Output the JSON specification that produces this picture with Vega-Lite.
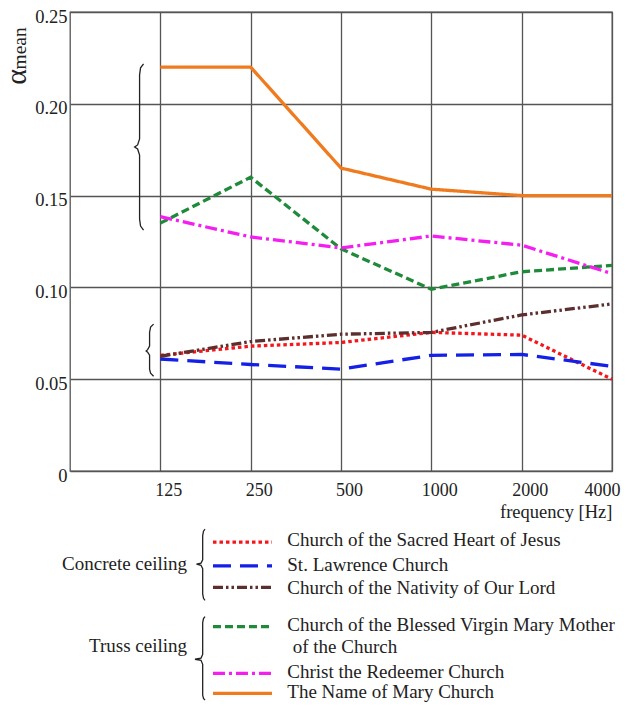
{
  "$schema": "https://vega.github.io/schema/vega-lite/v6.json",
  "padding": {"left": 0, "top": 6, "right": 0, "bottom": 0},
  "bounds": "flush",
  "spacing": 58,
  "resolve": {"scale": {"x": "independent", "y": "independent", "color": "independent", "strokeDash": "independent"}},
  "config": {
    "font": "Liberation Serif",
    "view": {"stroke": "#555", "strokeWidth": 1.3},
    "axis": {"labelFont": "Liberation Serif", "titleFont": "Liberation Serif", "labelColor": "#222", "titleColor": "#222", "titleFontWeight": "normal", "gridColor": "#555", "gridWidth": 1.3, "gridOpacity": 1}
  },
  "datasets": {
    "obs": [
      {"series": "Church of the Sacred Heart of Jesus", "freq": 125, "alpha": 0.063},
      {"series": "Church of the Sacred Heart of Jesus", "freq": 250, "alpha": 0.068},
      {"series": "Church of the Sacred Heart of Jesus", "freq": 500, "alpha": 0.070},
      {"series": "Church of the Sacred Heart of Jesus", "freq": 1000, "alpha": 0.0755},
      {"series": "Church of the Sacred Heart of Jesus", "freq": 2000, "alpha": 0.074},
      {"series": "Church of the Sacred Heart of Jesus", "freq": 4000, "alpha": 0.050},
      {"series": "St. Lawrence Church", "freq": 125, "alpha": 0.061},
      {"series": "St. Lawrence Church", "freq": 250, "alpha": 0.058},
      {"series": "St. Lawrence Church", "freq": 500, "alpha": 0.0555},
      {"series": "St. Lawrence Church", "freq": 1000, "alpha": 0.063},
      {"series": "St. Lawrence Church", "freq": 2000, "alpha": 0.0635},
      {"series": "St. Lawrence Church", "freq": 4000, "alpha": 0.057},
      {"series": "Church of the Nativity of Our Lord", "freq": 125, "alpha": 0.0625},
      {"series": "Church of the Nativity of Our Lord", "freq": 250, "alpha": 0.0705},
      {"series": "Church of the Nativity of Our Lord", "freq": 500, "alpha": 0.0745},
      {"series": "Church of the Nativity of Our Lord", "freq": 1000, "alpha": 0.0755},
      {"series": "Church of the Nativity of Our Lord", "freq": 2000, "alpha": 0.085},
      {"series": "Church of the Nativity of Our Lord", "freq": 4000, "alpha": 0.091},
      {"series": "Church of the Blessed Virgin Mary Mother of the Church", "freq": 125, "alpha": 0.135},
      {"series": "Church of the Blessed Virgin Mary Mother of the Church", "freq": 250, "alpha": 0.160},
      {"series": "Church of the Blessed Virgin Mary Mother of the Church", "freq": 500, "alpha": 0.121},
      {"series": "Church of the Blessed Virgin Mary Mother of the Church", "freq": 1000, "alpha": 0.099},
      {"series": "Church of the Blessed Virgin Mary Mother of the Church", "freq": 2000, "alpha": 0.1085},
      {"series": "Church of the Blessed Virgin Mary Mother of the Church", "freq": 4000, "alpha": 0.112},
      {"series": "Christ the Redeemer Church", "freq": 125, "alpha": 0.1385},
      {"series": "Christ the Redeemer Church", "freq": 250, "alpha": 0.1275},
      {"series": "Christ the Redeemer Church", "freq": 500, "alpha": 0.1215},
      {"series": "Christ the Redeemer Church", "freq": 1000, "alpha": 0.128},
      {"series": "Christ the Redeemer Church", "freq": 2000, "alpha": 0.123},
      {"series": "Christ the Redeemer Church", "freq": 4000, "alpha": 0.1075},
      {"series": "The Name of Mary Church", "freq": 125, "alpha": 0.22},
      {"series": "The Name of Mary Church", "freq": 250, "alpha": 0.22},
      {"series": "The Name of Mary Church", "freq": 500, "alpha": 0.165},
      {"series": "The Name of Mary Church", "freq": 1000, "alpha": 0.1535},
      {"series": "The Name of Mary Church", "freq": 2000, "alpha": 0.150},
      {"series": "The Name of Mary Church", "freq": 4000, "alpha": 0.150}
    ],
    "bracesPlot": [
      {"brace": "truss", "i": 0, "f": 109.9, "a": 0.2218},
      {"brace": "truss", "i": 1, "f": 107.4, "a": 0.2196},
      {"brace": "truss", "i": 2, "f": 106.6, "a": 0.2158},
      {"brace": "truss", "i": 3, "f": 106.6, "a": 0.1809},
      {"brace": "truss", "i": 4, "f": 105.0, "a": 0.1776},
      {"brace": "truss", "i": 5, "f": 102.6, "a": 0.1765},
      {"brace": "truss", "i": 6, "f": 105.0, "a": 0.1754},
      {"brace": "truss", "i": 7, "f": 106.6, "a": 0.1721},
      {"brace": "truss", "i": 8, "f": 106.6, "a": 0.1372},
      {"brace": "truss", "i": 9, "f": 107.4, "a": 0.1334},
      {"brace": "truss", "i": 10, "f": 109.9, "a": 0.1312},
      {"brace": "concrete", "i": 0, "f": 118.7, "a": 0.0800},
      {"brace": "concrete", "i": 1, "f": 116.0, "a": 0.0784},
      {"brace": "concrete", "i": 2, "f": 115.1, "a": 0.0756},
      {"brace": "concrete", "i": 3, "f": 115.1, "a": 0.0680},
      {"brace": "concrete", "i": 4, "f": 113.4, "a": 0.0661},
      {"brace": "concrete", "i": 5, "f": 112.1, "a": 0.0654},
      {"brace": "concrete", "i": 6, "f": 113.4, "a": 0.0647},
      {"brace": "concrete", "i": 7, "f": 115.1, "a": 0.0631},
      {"brace": "concrete", "i": 8, "f": 115.1, "a": 0.0555},
      {"brace": "concrete", "i": 9, "f": 116.0, "a": 0.0533},
      {"brace": "concrete", "i": 10, "f": 118.7, "a": 0.0516}
    ],
    "subscript": [
      {"text": "mean", "f": 44.7, "a": 0.2302}
    ],
    "keys": [
      {"series": "Church of the Sacred Heart of Jesus", "label": "Church of the Sacred Heart of Jesus", "ly": 0, "ty": -0.1},
      {"series": "St. Lawrence Church", "label": "St. Lawrence Church", "ly": 1.08, "ty": 1.03},
      {"series": "Church of the Nativity of Our Lord", "label": "Church of the Nativity of Our Lord", "ly": 2.05, "ty": 2.09},
      {"series": "Church of the Blessed Virgin Mary Mother of the Church", "label": "Church of the Blessed Virgin Mary Mother", "ly": 3.84, "ty": 3.77},
      {"series": "Christ the Redeemer Church", "label": "Christ the Redeemer Church", "ly": 5.96, "ty": 5.88},
      {"series": "The Name of Mary Church", "label": "The Name of Mary Church", "ly": 6.87, "ty": 6.83}
    ],
    "groups": [
      {"group": "Concrete ceiling", "gy": 1.0},
      {"group": "Truss ceiling", "gy": 4.71}
    ],
    "wrapped": [
      {"text": "of the Church", "wy": 4.75}
    ],
    "bracesLegend": [
      {"brace": "concrete", "i": 0, "bx": 24.91, "by": -0.59},
      {"brace": "concrete", "i": 1, "bx": 24.63, "by": -0.5},
      {"brace": "concrete", "i": 2, "bx": 24.48, "by": -0.3},
      {"brace": "concrete", "i": 3, "bx": 24.48, "by": 0.8},
      {"brace": "concrete", "i": 4, "bx": 24.17, "by": 0.95},
      {"brace": "concrete", "i": 5, "bx": 23.34, "by": 1.0},
      {"brace": "concrete", "i": 6, "bx": 24.17, "by": 1.05},
      {"brace": "concrete", "i": 7, "bx": 24.48, "by": 1.2},
      {"brace": "concrete", "i": 8, "bx": 24.48, "by": 2.35},
      {"brace": "concrete", "i": 9, "bx": 24.63, "by": 2.55},
      {"brace": "concrete", "i": 10, "bx": 24.91, "by": 2.64},
      {"brace": "truss", "i": 0, "bx": 24.91, "by": 3.38},
      {"brace": "truss", "i": 1, "bx": 24.63, "by": 3.47},
      {"brace": "truss", "i": 2, "bx": 24.48, "by": 3.65},
      {"brace": "truss", "i": 3, "bx": 24.48, "by": 5.1},
      {"brace": "truss", "i": 4, "bx": 24.17, "by": 5.27},
      {"brace": "truss", "i": 5, "bx": 23.06, "by": 5.32},
      {"brace": "truss", "i": 6, "bx": 24.17, "by": 5.37},
      {"brace": "truss", "i": 7, "bx": 24.48, "by": 5.55},
      {"brace": "truss", "i": 8, "bx": 24.48, "by": 6.95},
      {"brace": "truss", "i": 9, "bx": 24.63, "by": 7.1},
      {"brace": "truss", "i": 10, "bx": 24.91, "by": 7.17}
    ]
  },
  "vconcat": [
    {
      "width": 542,
      "height": 459,
      "layer": [
        {
          "data": {"name": "bracesPlot"},
          "mark": {"type": "line", "color": "#222", "strokeWidth": 1.3},
          "encoding": {
            "x": {"field": "f", "type": "quantitative", "scale": {"type": "log", "base": 2, "domain": [62.5, 4000], "nice": false}},
            "y": {"field": "a", "type": "quantitative", "scale": {"domain": [0, 0.25], "nice": false}},
            "detail": {"field": "brace"},
            "order": {"field": "i", "type": "quantitative"}
          }
        },
        {
          "data": {"name": "subscript"},
          "mark": {"type": "text", "angle": 270, "align": "center", "baseline": "alphabetic", "fontSize": 19.5, "font": "Liberation Serif", "color": "#222"},
          "encoding": {
            "x": {"field": "f", "type": "quantitative"},
            "y": {"field": "a", "type": "quantitative"},
            "text": {"field": "text"}
          }
        },
        {
          "data": {"name": "obs"},
          "mark": {"type": "line", "strokeWidth": 3.3},
          "encoding": {
            "x": {
              "field": "freq", "type": "quantitative",
              "scale": {"type": "log", "base": 2, "domain": [62.5, 4000], "nice": false},
              "axis": {"values": [125, 250, 500, 1000, 2000, 4000], "format": "d", "grid": true, "ticks": false, "domain": false, "labelPadding": 10, "labelOffset": 8, "labelFont": "Liberation Serif", "labelFontSize": 18, "title": "frequency [Hz]", "titleFont": "Liberation Serif", "titleFontSize": 18.5, "titleAnchor": "end", "titlePadding": 3}
            },
            "y": {
              "field": "alpha", "type": "quantitative",
              "scale": {"domain": [0, 0.25], "nice": false},
              "axis": {"values": [0, 0.05, 0.1, 0.15, 0.2, 0.25], "labelExpr": "datum.value == 0 ? '0' : format(datum.value, '.2f')", "grid": true, "ticks": false, "domain": false, "labelPadding": 3, "labelOffset": 4, "labelFont": "Liberation Serif", "labelFontSize": 18.5, "title": "α", "titleFont": "Liberation Serif", "titleFontSize": 30, "titleX": -45, "titleY": 64.5, "titleAngle": 270, "titleAlign": "center", "titleBaseline": "alphabetic"}
            },
            "color": {
              "field": "series", "type": "nominal", "legend": null,
              "scale": {
                "domain": ["Church of the Sacred Heart of Jesus", "St. Lawrence Church", "Church of the Nativity of Our Lord", "Church of the Blessed Virgin Mary Mother of the Church", "Christ the Redeemer Church", "The Name of Mary Church"],
                "range": ["#f5161b", "#1420e6", "#5c2e2e", "#1f8a3a", "#f51ef0", "#f07a1e"]
              }
            },
            "strokeDash": {
              "field": "series", "type": "nominal", "legend": null,
              "scale": {
                "domain": ["Church of the Sacred Heart of Jesus", "St. Lawrence Church", "Church of the Nativity of Our Lord", "Church of the Blessed Virgin Mary Mother of the Church", "Christ the Redeemer Church", "The Name of Mary Church"],
                "range": [[3.5, 3], [18, 9], [10, 3, 2.5, 3, 2.5, 3], [8, 4], [12, 4, 3, 4], [1, 0]]
              }
            }
          }
        }
      ]
    },
    {
      "width": 542,
      "height": 176,
      "view": {"stroke": null},
      "layer": [
        {
          "data": {"name": "keys"},
          "mark": {"type": "rule", "strokeWidth": 3.3},
          "encoding": {
            "x": {"datum": 26.38, "type": "quantitative", "scale": {"domain": [0, 100], "nice": false}, "axis": null},
            "x2": {"datum": 37.27},
            "y": {"field": "ly", "type": "quantitative", "scale": {"domain": [-0.6, 7.4], "reverse": true, "nice": false, "zero": false}, "axis": null},
            "color": {
              "field": "series", "type": "nominal", "legend": null,
              "scale": {
                "domain": ["Church of the Sacred Heart of Jesus", "St. Lawrence Church", "Church of the Nativity of Our Lord", "Church of the Blessed Virgin Mary Mother of the Church", "Christ the Redeemer Church", "The Name of Mary Church"],
                "range": ["#f5161b", "#1420e6", "#5c2e2e", "#1f8a3a", "#f51ef0", "#f07a1e"]
              }
            },
            "strokeDash": {
              "field": "series", "type": "nominal", "legend": null,
              "scale": {
                "domain": ["Church of the Sacred Heart of Jesus", "St. Lawrence Church", "Church of the Nativity of Our Lord", "Church of the Blessed Virgin Mary Mother of the Church", "Christ the Redeemer Church", "The Name of Mary Church"],
                "range": [[3.5, 3], [18, 9], [10, 3, 2.5, 3, 2.5, 3], [8, 4], [12, 4, 3, 4], [1, 0]]
              }
            }
          }
        },
        {
          "data": {"name": "keys"},
          "mark": {"type": "text", "align": "left", "baseline": "middle", "fontSize": 19, "font": "Liberation Serif", "color": "#222"},
          "encoding": {
            "x": {"datum": 40.09, "type": "quantitative"},
            "y": {"field": "ty", "type": "quantitative"},
            "text": {"field": "label"}
          }
        },
        {
          "data": {"name": "wrapped"},
          "mark": {"type": "text", "align": "left", "baseline": "middle", "fontSize": 19, "font": "Liberation Serif", "color": "#222"},
          "encoding": {
            "x": {"datum": 41.09, "type": "quantitative"},
            "y": {"field": "wy", "type": "quantitative"},
            "text": {"field": "text"}
          }
        },
        {
          "data": {"name": "groups"},
          "mark": {"type": "text", "align": "right", "baseline": "middle", "fontSize": 19, "font": "Liberation Serif", "color": "#222"},
          "encoding": {
            "x": {"datum": 21.6, "type": "quantitative"},
            "y": {"field": "gy", "type": "quantitative"},
            "text": {"field": "group"}
          }
        },
        {
          "data": {"name": "bracesLegend"},
          "mark": {"type": "line", "color": "#222", "strokeWidth": 1.3},
          "encoding": {
            "x": {"field": "bx", "type": "quantitative"},
            "y": {"field": "by", "type": "quantitative"},
            "detail": {"field": "brace"},
            "order": {"field": "i", "type": "quantitative"}
          }
        }
      ]
    }
  ]
}
